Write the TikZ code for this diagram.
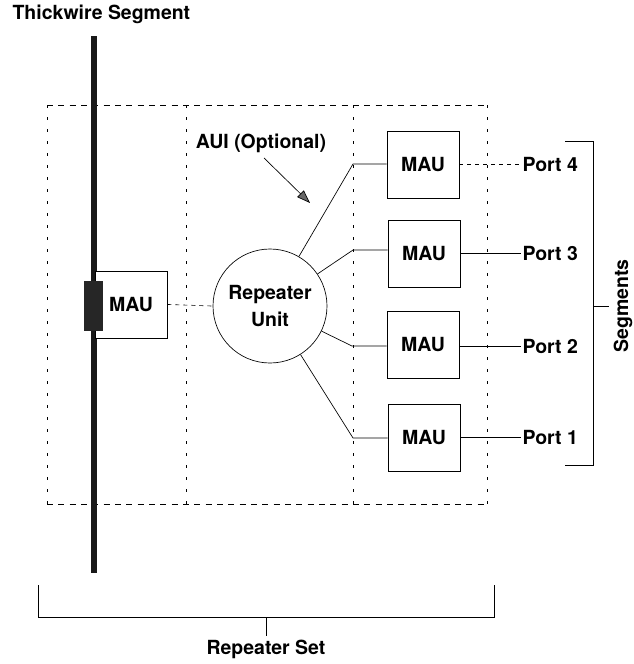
\documentclass[tikz,border=0pt]{standalone}
\usepackage{fontspec}
\setmainfont{TeX Gyre Heros}
\usetikzlibrary{positioning,arrows.meta}

\begin{document}
\begin{tikzpicture}[
		x=0.75pt, y=-0.75pt,
		lbl/.style={font=\fontsize{14.6}{20}\selectfont\bfseries, inner sep=1pt},
		maubox/.style={draw, rectangle, line width=0.5pt, minimum width=54pt, minimum height=50pt, inner sep=0pt, fill=white, font=\fontsize{14.6}{20}\selectfont\bfseries},
		rptr/.style={draw, circle, line width=0.5pt, minimum size=85.5pt, inner sep=0pt, align=center, fill=white, font=\fontsize{14.6}{20}\selectfont\bfseries},
		frame_line/.style={line width=0.5pt, dash pattern=on 4.5pt off 4pt},
		div_line/.style={line width=0.5pt, dash pattern=on 2pt off 7pt},
		link/.style={line width=0.5pt},
		wire/.style={line width=5pt, black!90}
		]
		
		\useasboundingbox (0,0) rectangle (634,664);
		
		% Repeater Set frame (dashed)
		\draw[frame_line] (47,105) -- (487,105);
		\draw[frame_line] (47,504) -- (487,504);
		\draw[div_line] (47,105) -- (47,504);
		\draw[div_line] (186,105) -- (186,504);
		\draw[div_line] (353,105) -- (353,504);
		\draw[div_line] (487,105) -- (487,504);
		
		% Thickwire
		\node[lbl, anchor=west] (thick_lbl) at (11,14) {Thickwire Segment};
		\coordinate (wire_top) at (94,36);
		\coordinate (wire_bot) at (94,573);
		\draw[wire] (wire_top) -- (wire_bot);
		
		% MAU on the thickwire
		\node[maubox] (mau_t) at (131,304.5) {MAU};
		\node[fill=black!85, minimum width=14.25pt, minimum height=37.5pt, inner sep=0pt] (tap) at (93.5,306) {};
		
		% Repeater Unit
		\node[rptr] (ru) at (270,306) {Repeater\\Unit};
		\draw[link, dashed] (mau_t.east) -- (ru.west);
		
		% AUI label and arrow
		\node[lbl] (aui) at (261,143) {AUI (Optional)};
		\coordinate (aui_tip) at (310,203);
		\draw[link, -{Triangle[length=10pt, width=7pt, fill=black!60]}] ([shift={(3,4)}]aui.south) -- (aui_tip);
		
		% Port MAUs
		\node[maubox] (mau4) at (423,164.5) {MAU};
		\node[maubox] (mau3) at (424,253.5) {MAU};
		\node[maubox] (mau2) at (423,344.5) {MAU};
		\node[maubox] (mau1) at (424,437.5) {MAU};
		
		% bends on the divider
		\coordinate (b4) at (353,164);
		\coordinate (b3) at (353,250);
		\coordinate (b2) at (352,346);
		\coordinate (b1) at (353,438);
		
		\draw[link] (ru) -- (b4) -- (mau4.west |- b4);
		\draw[link] (ru) -- (b3) -- (mau3.west |- b3);
		\draw[link] (ru) -- (b2) -- (mau2.west |- b2);
		\draw[link] (ru) -- (b1) -- (mau1.west |- b1);
		
		% Ports
		\node[lbl, anchor=west] (port4) at (521,164) {Port 4};
		\node[lbl, anchor=west] (port3) at (521,253) {Port 3};
		\node[lbl, anchor=west] (port2) at (521,346) {Port 2};
		\node[lbl, anchor=west] (port1) at (521,437) {Port 1};
		
		\draw[link, dashed] (mau4.east |- port4) -- (port4.west);
		\draw[link] (mau3.east |- port3) -- (port3.west);
		\draw[link] (mau2.east |- port2) -- (port2.west);
		\draw[link] (mau1.east |- port1) -- (port1.west);
		
		% Segments bracket
		\coordinate (seg_top) at (565,141);
		\coordinate (seg_bot) at (565,465);
		\coordinate (seg_mid) at (593,306);
		\draw[link] (seg_top) -- (593,141) -- (593,465) -- (seg_bot);
		\draw[link] (seg_mid) -- ++(16,0) coordinate (seg_end);
		\node[lbl, rotate=90] (seg_lbl) at (623,306) {Segments};
		
		% Repeater Set bracket
		\coordinate (set_l) at (38,585);
		\coordinate (set_r) at (494,585);
		\draw[link] (set_l) -- (38,617) -- (494,617) -- (set_r);
		\coordinate (set_mid) at (266,617);
		\draw[link] (set_mid) -- ++(0,19) coordinate (set_end);
		\node[lbl, below=2pt of set_end] (set_lbl) {Repeater Set};
		
	\end{tikzpicture}
\end{document}
